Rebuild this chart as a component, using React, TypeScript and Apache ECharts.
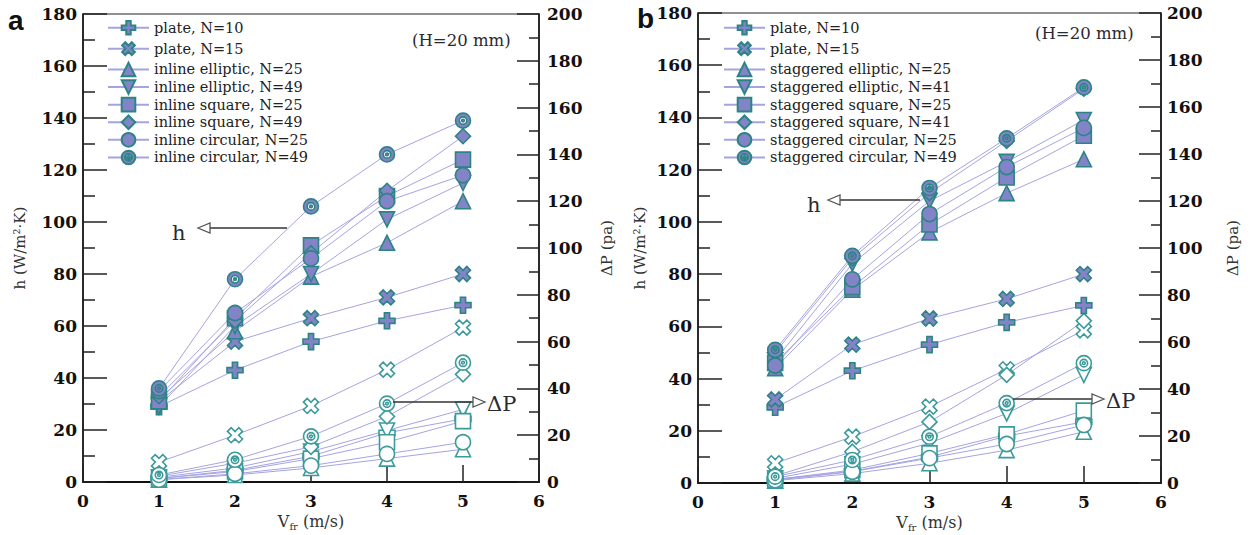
import React, { useEffect, useRef } from "react";
import * as echarts from "echarts";

// ---------- data ----------
const X_VALUES = [1, 2, 3, 4, 5];
const X_TICKS = [0, 1, 2, 3, 4, 5, 6];

const NAMES_A = [
  "plate, N=10",
  "plate, N=15",
  "inline elliptic, N=25",
  "inline elliptic, N=49",
  "inline square, N=25",
  "inline square, N=49",
  "inline circular, N=25",
  "inline circular, N=49",
];
const NAMES_B = [
  "plate, N=10",
  "plate, N=15",
  "staggered elliptic, N=25",
  "staggered elliptic, N=41",
  "staggered square, N=25",
  "staggered square, N=41",
  "staggered circular, N=25",
  "staggered circular, N=49",
];

// panel a, heat transfer coefficient h (W/m2K)
const hA_plate10 = [29, 43, 54, 62, 68];
const hA_plate15 = [31, 54, 63, 71, 80];
const hA_ell25 = [32, 58, 79, 92, 108];
const hA_ell49 = [29, 60, 80, 101, 115];
const hA_sq25 = [31, 63, 91, 110, 124];
const hA_sq49 = [33, 62, 88, 112, 133];
const hA_circ25 = [35, 65, 86, 108, 118];
const hA_circ49 = [36, 78, 106, 126, 139];

// panel a, pressure drop dP (Pa)
const pA_plate10 = [1.5, 5, 11, 21, 27];
const pA_plate15 = [8.5, 20, 32.5, 48, 66];
const pA_ell25 = [1, 3, 6, 10, 14];
const pA_ell49 = [2, 6, 13, 22, 31];
const pA_sq25 = [1.5, 4.5, 10, 17, 26];
const pA_sq49 = [2.5, 8, 15, 28, 46];
const pA_circ25 = [1, 3.5, 7, 12, 17];
const pA_circ49 = [3, 9.5, 19.5, 33.5, 51];

// panel b, h
const hB_plate10 = [29, 43, 53, 61.5, 68];
const hB_plate15 = [32, 53, 63, 70.5, 80];
const hB_ell25 = [44, 74, 96, 111, 124];
const hB_ell41 = [47, 84, 108, 123, 139];
const hB_sq25 = [46, 75, 99, 117, 133];
const hB_sq41 = [50, 86, 111, 131, 151];
const hB_circ25 = [45, 78, 103, 121, 136];
const hB_circ49 = [51, 87, 113, 132, 151.5];

// panel b, dP
const pB_plate10 = [1.5, 5, 11, 20, 26];
const pB_plate15 = [8.4, 19.7, 32.5, 48.4, 65];
const pB_ell25 = [1, 4, 8.4, 14, 21.8];
const pB_ell41 = [2, 8, 17, 29.6, 46];
const pB_sq25 = [1.5, 5.5, 12.6, 20.7, 30.8];
const pB_sq41 = [3, 13.3, 26, 46, 69];
const pB_circ25 = [1.2, 4.8, 10.6, 16.6, 24.7];
const pB_circ49 = [2.7, 9.8, 19.7, 34, 51];

// ---------- styles ----------
const LINE = "#a4a4e2";
const FILL = "#8383c8";
const EDGE = "#2c8484";
const OPEN_EDGE = "#3c9a9a";

const PLUS =
  "path://M-1.3,-4H1.3V-1.3H4V1.3H1.3V4H-1.3V1.3H-4V-1.3H-1.3Z";
const RING =
  "path://M0,-10A10,10 0 1,1 0,10A10,10 0 1,1 0,-10Z" +
  "M0,-5A5,5 0 1,0 0,5A5,5 0 1,0 0,-5Z" +
  "M0,-1.8A1.8,1.8 0 1,1 0,1.8A1.8,1.8 0 1,1 0,-1.8Z";

const SYMBOLS: [string, number][] = [
  [PLUS, 0],
  [PLUS, 45],
  ["triangle", 0],
  ["triangle", 180],
  ["rect", 0],
  ["diamond", 0],
  ["circle", 0],
  [RING, 0],
];

function mk(
  name: string,
  vals: number[],
  idx: number,
  xAxisIndex: number,
  yAxisIndex: number,
  filled: boolean
) {
  const [symbol, rot] = SYMBOLS[idx];
  return {
    type: "line",
    name,
    xAxisIndex,
    yAxisIndex,
    data: X_VALUES.map((x, i) => [x, vals[i]]),
    symbol,
    symbolRotate: rot,
    symbolSize: idx === 7 ? 15 : idx < 2 ? 16 : 15,
    showSymbol: true,
    lineStyle: { color: LINE, width: 1 },
    itemStyle: filled
      ? { color: FILL, borderColor: EDGE, borderWidth: 1.6 }
      : { color: "#ffffff", borderColor: OPEN_EDGE, borderWidth: 1.6 },
    emphasis: { disabled: true },
    z: filled ? 3 : 2,
  };
}

const TICK_FONT = {
  fontFamily: "DejaVu Serif",
  fontWeight: "bold" as const,
  fontSize: 17,
  color: "#111",
};

function xAxis(gridIndex: number) {
  return {
    type: "value",
    gridIndex,
    min: X_TICKS[0],
    max: X_TICKS[X_TICKS.length - 1],
    interval: 1,
    name: "{v|V}{s|fr}{v| (m/s)}",
    nameLocation: "middle",
    nameGap: 29,
    nameTextStyle: {
      rich: {
        v: { fontFamily: "DejaVu Serif", fontSize: 16, color: "#333" },
        s: {
          fontFamily: "DejaVu Serif",
          fontSize: 10,
          color: "#333",
          padding: [9, 0, 0, 0],
        },
      },
    },
    axisLine: { show: true, onZero: false, lineStyle: { color: "#111", width: 2 } },
    axisTick: { show: true, inside: true, length: 17, lineStyle: { color: "#222", width: 1.5 } },
    axisLabel: { ...TICK_FONT, margin: 10 },
    splitLine: { show: false },
  };
}

function yAxis(
  gridIndex: number,
  position: "left" | "right",
  max: number,
  name: string,
  nameGap: number,
  margin: number,
  major: number,
  minor: number
) {
  return {
    type: "value",
    gridIndex,
    position,
    min: 0,
    max,
    interval: 20,
    name,
    nameLocation: "middle",
    nameRotate: 90,
    nameGap,
    nameTextStyle: { fontFamily: "DejaVu Serif", fontSize: 15, color: "#333" },
    axisLine: { show: true, onZero: false, lineStyle: { color: "#111", width: 1.5 } },
    axisTick: { show: true, inside: true, length: major, lineStyle: { color: "#222", width: 1.5 } },
    minorTick: { show: true, splitNumber: 2, length: minor, lineStyle: { color: "#222", width: 1.5 } },
    axisLabel: { ...TICK_FONT, margin },
    splitLine: { show: false },
    minorSplitLine: { show: false },
  };
}

function legend(left: number, names: string[]) {
  return {
    show: true,
    orient: "vertical",
    left,
    top: 20,
    padding: 0,
    itemWidth: 41,
    itemHeight: 17,
    itemGap: 2,
    data: names,
    selectedMode: false,
    textStyle: { fontFamily: "DejaVu Serif", fontSize: 14.5, color: "#222" },
  };
}

function arrow(x1: number, x2: number, y: number, dir: 1 | -1) {
  const tip = x2;
  const base = x2 - dir * 12;
  return [
    {
      type: "line",
      shape: { x1, y1: y, x2: base, y2: y },
      style: { stroke: "#333", lineWidth: 1.3 },
      z: 10,
    },
    {
      type: "polygon",
      shape: { points: [[tip, y], [base, y - 5], [base, y + 5]] },
      style: { fill: "#fff", stroke: "#555", lineWidth: 1.3 },
      z: 10,
    },
  ];
}

function txt(text: string, x: number, y: number, size: number, extra: any = {}) {
  return {
    type: "text",
    x,
    y,
    z: 10,
    style: {
      text,
      fontFamily: "DejaVu Serif",
      fontSize: size,
      fill: "#2a2a33",
      align: "left",
      verticalAlign: "middle",
      ...extra,
    },
  };
}

export default function App() {
  const ref = useRef<HTMLDivElement>(null);
  useEffect(() => {
    document.body.style.margin = "0";
    if (!ref.current) return;
    const chart = echarts.init(ref.current, undefined, { renderer: "svg" });

    const hA = [hA_plate10, hA_plate15, hA_ell25, hA_ell49, hA_sq25, hA_sq49, hA_circ25, hA_circ49];
    const pA = [pA_plate10, pA_plate15, pA_ell25, pA_ell49, pA_sq25, pA_sq49, pA_circ25, pA_circ49];
    const hB = [hB_plate10, hB_plate15, hB_ell25, hB_ell41, hB_sq25, hB_sq41, hB_circ25, hB_circ49];
    const pB = [pB_plate10, pB_plate15, pB_ell25, pB_ell41, pB_sq25, pB_sq41, pB_circ25, pB_circ49];

    const series: any[] = [];
    pA.forEach((v, i) => series.push(mk("ΔP (a) " + NAMES_A[i], v, i, 0, 1, false)));
    pB.forEach((v, i) => series.push(mk("ΔP (b) " + NAMES_B[i], v, i, 1, 3, false)));
    hA.forEach((v, i) => series.push(mk(NAMES_A[i], v, i, 0, 0, true)));
    hB.forEach((v, i) => series.push(mk(NAMES_B[i], v, i, 1, 2, true)));

    const option: any = {
      animation: false,
      backgroundColor: "#ffffff",
      grid: [
        {
          left: 83,
          right: 717,
          top: 14,
          bottom: 53,
          show: true,
          borderColor: "#222",
          borderWidth: 1.2,
          backgroundColor: "transparent",
          containLabel: false,
          outerBoundsMode: "none",
        },
        {
          left: 698,
          right: 95,
          top: 13,
          bottom: 52,
          show: true,
          borderColor: "#222",
          borderWidth: 1.2,
          backgroundColor: "transparent",
          containLabel: false,
          outerBoundsMode: "none",
        },
      ],
      xAxis: [xAxis(0), xAxis(1)],
      yAxis: [
        yAxis(0, "left", 180, "h (W/m²·K)", 56, 6, 24, 12),
        yAxis(0, "right", 200, "ΔP (pa)", 60, 8, 22, 10),
        yAxis(1, "left", 180, "h (W/m²·K)", 51, 6, 24, 12),
        yAxis(1, "right", 200, "ΔP (pa)", 64, 6, 22, 10),
      ],
      legend: [legend(107, NAMES_A), legend(723, NAMES_B)],
      tooltip: { show: false },
      series,
      graphic: [
        {
          type: "text",
          x: 8,
          y: 6,
          style: { text: "a", fontFamily: "Liberation Sans", fontWeight: "bold", fontSize: 28, fill: "#111" },
        },
        {
          type: "text",
          x: 637,
          y: 4,
          style: { text: "b", fontFamily: "Liberation Sans", fontWeight: "bold", fontSize: 28, fill: "#111" },
        },
        txt("(H=20 mm)", 412, 40, 16.5),
        txt("(H=20 mm)", 1035, 33, 16.5),
        ...arrow(287, 198, 228, -1),
        txt("h", 172, 233, 21),
        ...arrow(920, 828, 200, -1),
        txt("h", 807, 205, 21),
        ...arrow(393, 485, 402, 1),
        txt("ΔP", 487, 404, 21),
        ...arrow(1013, 1104, 399, 1),
        txt("ΔP", 1106, 401, 21),
      ],
    };
    chart.setOption(option);
    return () => chart.dispose();
  }, []);

  return <div ref={ref} style={{ width: 1256, height: 535, background: "#fff" }} />;
}
